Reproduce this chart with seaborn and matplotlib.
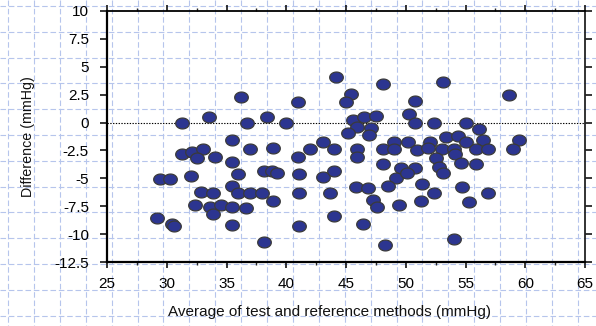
import numpy as np
import pandas as pd
import matplotlib
matplotlib.use("Agg")
import matplotlib.pyplot as plt
from matplotlib.path import Path
from matplotlib.ticker import MultipleLocator
import seaborn as sns

# Average of the two methods (mmHg)
average = [
    29.2, 29.4, 30.3, 30.4, 30.6, 31.3, 31.3, 32.1, 33.0, 32.5, 34.0, 35.5,
    32.0, 32.9, 33.9, 35.5, 36.0, 37.0, 38.0, 36.0, 38.1, 38.8, 39.2,
    32.4, 33.6, 33.9, 34.5, 35.5, 36.6, 35.5, 38.1, 38.9,
    33.5, 36.2, 36.7, 38.4, 35.5, 37.0, 38.9,
    44.2, 48.1, 45.4, 45.0, 41.0, 40.0, 45.6, 46.5, 47.5, 45.9, 47.1, 45.2,
    46.9, 43.1, 44.0, 42.0, 41.0, 45.9, 45.9, 48.1, 49.0, 49.0,
    41.1, 43.1, 44.0, 48.1, 49.6, 49.2, 48.5, 45.8, 46.8, 41.1, 43.7, 47.3,
    47.6, 49.4, 44.0, 41.1, 46.4, 48.3,
    53.1, 58.6, 50.8, 50.3, 50.8, 52.4, 55.0, 56.1, 50.2, 52.0, 53.4, 54.4,
    55.0, 56.5, 59.5, 50.9, 51.9, 53.0, 54.0, 55.9, 56.9, 59.0, 52.5, 54.1,
    52.8, 53.1, 54.6, 55.9, 50.8, 50.1, 51.4, 52.4, 51.3, 54.7, 55.3, 56.9,
    54.0,
]

# Difference between the two methods (mmHg)
difference = [
    -8.6, -5.1, -5.1, -9.1, -9.3, 0.0, -2.8, -2.6, -2.4, -3.2, -3.1, -3.5,
    -4.8, -6.2, -6.3, -5.7, -6.3, -6.3, -6.3, -4.6, -4.3, -4.3, -4.5,
    -7.4, -7.6, -8.2, -7.4, -7.6, -7.7, -9.2, -10.7, -7.0,
    0.5, 2.3, 0.0, 0.5, -1.6, -2.4, -2.3,
    4.1, 3.5, 2.6, 1.8, 1.8, 0.0, 0.2, 0.5, 0.6, -0.4, -0.5, -0.9,
    -1.1, -1.7, -2.4, -2.4, -3.1, -2.4, -3.1, -2.4, -1.7, -2.4,
    -4.6, -4.9, -4.3, -3.7, -4.1, -5.0, -5.7, -5.8, -5.9, -6.3, -6.3, -6.9,
    -7.6, -7.4, -8.4, -9.3, -9.1, -11.0,
    3.6, 2.5, 1.9, 0.8, 0.0, 0.0, 0.0, -0.6, -1.7, -1.7, -1.3, -1.2,
    -1.7, -1.6, -1.6, -2.5, -2.3, -2.4, -2.4, -2.4, -2.4, -2.4, -3.2, -2.8,
    -4.0, -4.5, -3.6, -3.7, -4.1, -4.5, -5.5, -6.3, -7.0, -5.8, -7.1, -6.3,
    -10.4,
]

x_ticks = [25, 30, 35, 40, 45, 50, 55, 60, 65]
y_ticks = [10, 7.5, 5, 2.5, 0, -2.5, -5, -7.5, -10, -12.5]
x_title = "Average of test and reference methods (mmHg)"
y_title = "Difference (mmHg)"

df = pd.DataFrame({"avg": average, "diff": difference})

sns.set_theme(style="white")
plt.rcParams["font.family"] = ["Liberation Sans", "DejaVu Sans"]
plt.rcParams["axes.unicode_minus"] = False

W, H = 596, 326
fig = plt.figure(figsize=(W / 100, H / 100), dpi=100, facecolor="white")

# graph-paper backdrop spanning the whole figure
bg = fig.add_axes([0, 0, 1, 1], zorder=-5)
bg.set_xlim(0, W)
bg.set_ylim(H, 0)
bg.axis("off")
step = 25.9
grid_kw = dict(color="#b6c5ec", lw=0.8, linestyles=(0, (5, 2.5)))
bg.vlines(np.arange(8, W, step), 0, H, **grid_kw)
bg.hlines(np.arange(6, H, step * 0.996), 0, W, **grid_kw)

# plot area in pixel terms
L, R, T, B = 107, 585, 11, 262
ax = fig.add_axes([L / W, 1 - B / H, (R - L) / W, (B - T) / H])
ax.patch.set_alpha(0)

# flattened ellipse marker
t = np.linspace(0, 2 * np.pi, 60)
ellipse = Path(np.column_stack([np.cos(t), 0.8 * np.sin(t)]), closed=True)

ax.axhline(0, color="black", lw=0.8, dashes=(1.2, 1.3), zorder=1)
sns.scatterplot(data=df, x="avg", y="diff", ax=ax, marker=ellipse, s=96,
                color="#2c3590", edgecolor="#3a3a3a", linewidth=0.9,
                zorder=3, legend=False)

ax.set_xlim(25, 65)
ax.set_ylim(-12.5, 10)
ax.set_xticks(x_ticks)
ax.set_xticklabels([str(v) for v in x_ticks])
ax.set_yticks(y_ticks)
ax.set_yticklabels([f"{v:g}" for v in y_ticks])
ax.xaxis.set_minor_locator(MultipleLocator(2.5))

for side in ["left", "bottom", "top", "right"]:
    ax.spines[side].set_visible(True)
    ax.spines[side].set_color("black")
ax.spines["left"].set_linewidth(1.6)
ax.spines["bottom"].set_linewidth(1.6)
ax.spines["top"].set_linewidth(1.3)
ax.spines["right"].set_linewidth(1.3)
ax.spines["right"].set_color("#222222")

ax.tick_params(axis="x", which="major", direction="out", length=4.5, width=1.1,
               top=True, bottom=True, labeltop=False, labelsize=11,
               colors="black", pad=6)
ax.tick_params(axis="x", which="minor", direction="out", length=2.5, width=1.0,
               top=True, bottom=True)
ax.tick_params(axis="y", which="major", direction="out", length=5, width=1.1,
               left=True, right=True, labelright=False, labelsize=11,
               colors="black", pad=8)

ax.set_xlabel(x_title, fontsize=11, color="#111111")
ax.set_ylabel(y_title, fontsize=10.3, color="#111111")
ax.xaxis.set_label_coords((329 - L) / (R - L), -(305 - B) / (B - T))
ax.yaxis.set_label_coords(-(L - 35) / (R - L), 0.5)
ax.grid(False)

fig.savefig("out.png", dpi=100, facecolor="white")
